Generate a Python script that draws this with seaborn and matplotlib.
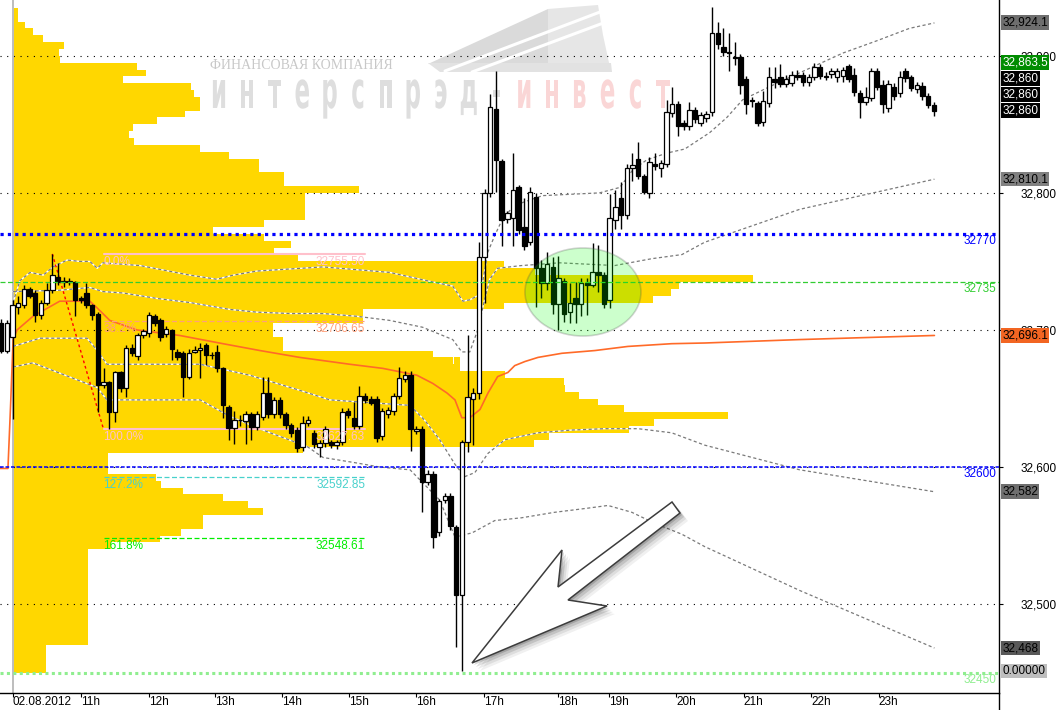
import numpy as np
import matplotlib
matplotlib.use("Agg")
import matplotlib.pyplot as plt
import seaborn as sns
from matplotlib.patches import Ellipse, Polygon, PathPatch
from matplotlib.textpath import TextPath
from matplotlib.font_manager import FontProperties
from matplotlib.transforms import Affine2D, IdentityTransform, ScaledTranslation
from matplotlib.lines import Line2D

# ---------------- data ----------------
first_bar = -2
opens = [32705, 32685, 32695, 32717, 32718, 32730, 32727, 32711, 32720, 32729,
         32739, 32735, 32736, 32735, 32723, 32727, 32718, 32712, 32660, 32662,
         32640, 32669, 32658, 32687, 32681, 32696, 32698, 32710, 32707, 32697,
         32700, 32684, 32683, 32666, 32684, 32685.5, 32689, 32682, 32684, 32672,
         32644, 32628.5, 32634.4, 32633.5, 32639, 32629, 32636.5, 32654, 32639, 32649,
         32639, 32631, 32627, 32615, 32632, 32625, 32615, 32617.5, 32618.5, 32616,
         32618.5, 32641, 32636, 32630, 32652, 32650, 32650, 32623, 32639, 32641,
         32652, 32664, 32667, 32626, 32628, 32589, 32595, 32553, 32576, 32579,
         32556, 32507, 32618, 32650, 32654, 32753, 32800, 32861, 32823, 32781,
         32782, 32804, 32775, 32764, 32797, 32745, 32734, 32746, 32719, 32736,
         32713, 32723, 32719, 32734, 32733, 32742, 32740, 32722, 32780, 32796,
         32784, 32818, 32825, 32812, 32800, 32821, 32818, 32821, 32858, 32865,
         32851, 32849, 32860.5, 32851, 32854.5, 32859, 32916.6, 32906.4, 32903, 32899,
         32899, 32883, 32868, 32865.6, 32851.7, 32865.6, 32883, 32884.5, 32879.4, 32880,
         32886, 32886, 32881, 32884.5, 32892, 32885.3, 32886.7, 32884.5, 32885, 32892.6,
         32886, 32873, 32866, 32869, 32889, 32879, 32862, 32877, 32873, 32889,
         32884.5, 32876, 32878, 32871, 32864]
highs = [32708, 32707, 32722, 32725, 32733, 32731, 32729, 32722, 32734, 32755.5,
         32749, 32739, 32738, 32736, 32725, 32734, 32719, 32713, 32672, 32663,
         32670, 32670, 32689, 32690, 32698, 32701, 32713, 32712, 32709, 32703,
         32701, 32686, 32685, 32686, 32688, 32690.5, 32690.5, 32684, 32689, 32673,
         32645, 32641, 32638, 32641, 32640, 32641, 32666, 32666, 32651, 32651,
         32640, 32632, 32629, 32637, 32637, 32627, 32620, 32630, 32620, 32620,
         32643, 32643, 32647.5, 32659, 32654, 32652, 32652, 32643, 32644, 32654,
         32673, 32670, 32670, 32630, 32630, 32598, 32597, 32577, 32581, 32581,
         32558, 32620, 32696, 32658, 32764, 32803, 32872, 32889, 32825, 32787,
         32829, 32806, 32796, 32804, 32800, 32751, 32757, 32753, 32754, 32738,
         32734, 32735, 32738, 32738, 32763.5, 32762, 32742, 32799, 32802, 32808,
         32821, 32829, 32837, 32814, 32826, 32829, 32824, 32868, 32877, 32867,
         32853, 32866, 32863, 32859, 32860, 32935.6, 32924.7, 32920, 32916.6, 32910,
         32901, 32885, 32870, 32867, 32874, 32892, 32892, 32894, 32886, 32889,
         32889.6, 32888, 32887, 32895, 32894, 32888, 32891, 32891, 32892, 32894,
         32891, 32875, 32877, 32891, 32891, 32882, 32882, 32880, 32889, 32891,
         32886, 32881, 32881, 32873, 32866]
lows = [32683, 32683, 32635, 32712, 32716, 32723, 32706, 32708, 32718, 32727,
        32733, 32731, 32733, 32710, 32720, 32716, 32707, 32640, 32658, 32627.6,
        32633, 32655, 32651, 32681, 32678, 32694, 32695, 32703, 32692, 32695,
        32678, 32678, 32651, 32664, 32683, 32665, 32674.5, 32679, 32669, 32636,
        32620, 32617, 32630, 32617, 32620, 32627, 32634, 32636, 32636, 32636,
        32628, 32622, 32611, 32612, 32630, 32614, 32607, 32615, 32614, 32613,
        32616, 32636, 32628, 32628, 32647, 32645, 32618, 32620, 32636, 32638,
        32650, 32662, 32612, 32624, 32567, 32587, 32541, 32550, 32574, 32554,
        32469, 32451, 32611, 32616, 32650, 32720, 32797, 32801, 32761, 32778,
        32761, 32770, 32758, 32762, 32717, 32723, 32729, 32712, 32700, 32706,
        32705, 32705, 32710, 32711, 32731, 32728, 32716, 32716, 32774, 32774,
        32781, 32809, 32810, 32799, 32796, 32817, 32811.5, 32819, 32855, 32841.5,
        32846, 32846, 32851, 32849, 32852, 32856, 32905, 32900, 32889, 32893,
        32872, 32857.6, 32863, 32849, 32849, 32863, 32876.5, 32877, 32877, 32878,
        32882, 32878, 32878, 32882, 32883, 32882, 32884, 32881, 32881, 32881,
        32871, 32854.6, 32864, 32867, 32875, 32858, 32859, 32868, 32870, 32881,
        32874, 32873, 32868, 32862, 32856]
closes = [32685, 32705, 32718, 32720, 32730, 32725, 32711, 32720, 32729, 32740,
          32735, 32736, 32735, 32722, 32722, 32718, 32711, 32660, 32662, 32640,
          32669, 32658, 32687, 32683, 32696, 32699, 32711, 32705, 32695, 32701,
          32686, 32680, 32666, 32683, 32685.5, 32687, 32682, 32681.5, 32672, 32645,
          32628.5, 32634, 32634, 32639, 32629, 32639, 32654, 32639, 32649, 32639,
          32631, 32625, 32614, 32632, 32634.5, 32617, 32617.5, 32628, 32616, 32618.5,
          32640, 32638, 32630, 32652, 32649, 32647, 32621, 32641, 32641.5, 32652,
          32665, 32667, 32628, 32628, 32589, 32595, 32549, 32575, 32579, 32557,
          32507, 32618, 32651, 32654, 32753, 32800, 32863, 32824, 32780, 32785,
          32802, 32773, 32761, 32801, 32745, 32734, 32748, 32719, 32738, 32712,
          32720, 32719, 32734, 32733, 32742, 32740, 32719, 32782, 32790, 32784,
          32818, 32820, 32812, 32801, 32822.5, 32819.5, 32822, 32859, 32865, 32849,
          32849, 32860.5, 32854, 32857, 32857.5, 32916.6, 32908.6, 32903, 32902, 32898.5,
          32879, 32865, 32867, 32851, 32867, 32884.5, 32881, 32879.4, 32883, 32886,
          32884.5, 32881, 32884.5, 32892, 32885, 32884.8, 32889, 32889, 32889.6, 32883,
          32873.6, 32866, 32870, 32889, 32877, 32865, 32879.4, 32871, 32884.5, 32884,
          32876.5, 32879, 32871, 32864, 32860]

hour_ticks = [0, 12, 24, 35.6, 47.4, 59.1, 71.0, 82.9, 96.0, 104.8, 116.7, 128.6, 140.4, 152.3]
hour_labels = ["02.08.2012", "11h", "12h", "13h", "14h", "15h", "16h", "17h",
               "18h", "19h", "20h", "21h", "22h", "23h"]
price_ticks = [32500, 32600, 32700, 32800, 32900]

profile_step = 5
left_profile_start = 32450
left_profile_volume = [33, 33, 33, 33, 75, 75, 75, 75, 75, 75, 75, 75, 75, 75, 75, 75, 75, 75,
                       98, 147, 168, 190, 190, 250, 235, 210, 170, 148, 143, 95, 95, 95, 290,
                       445, 445, 445, 445, 445, 445, 445, 445, 445, 445, 445, 445,
                       440, 420, 270, 270, 260, 260, 350, 350,
                       445, 445, 445, 445, 445, 445, 445,
                       285, 261, 278, 251, 200, 251, 292, 292, 292, 292, 346, 271, 271, 246,
                       246, 216, 187, 121, 116, 120, 144, 172, 187, 187, 181, 178, 110, 133,
                       124, 47, 46, 51, 30, 20, 12, 5, 5, 0]
right_profile_start = 32615
right_profile_volume = [80, 95, 175, 200, 274, 170, 144, 125, 111, 110, 51, 6, 6,
                        0, 0, 0, 0, 0, 0, 0, 50, 199, 217, 225, 299, 81, 50]
right_profile_first_bar = 77.6

vwap_bar = [-2.2, -0.8, -0.3, 0.1, 0.8, 3.6, 6.6, 8.3, 13.6, 14.9, 17.1, 21.9, 29.4, 37.0,
            43.5, 50.5, 59.3, 65.1, 71.1, 73.9, 76.4, 77.8, 79.0, 80.4, 82.2, 83.6, 85.3,
            87.1, 88.3, 90.1, 92.4, 96.6, 102.4, 108.2, 115.9, 121.7, 138.4, 162.1]
vwap_price = [32599, 32599, 32649, 32693, 32700, 32710, 32717, 32721, 32721, 32716, 32707,
              32700, 32696, 32690, 32685, 32680, 32675, 32672, 32667, 32661, 32654, 32649,
              32636, 32636, 32642, 32654, 32666, 32669, 32674, 32677, 32680, 32683, 32685,
              32688, 32690, 32690.5, 32693, 32696]
upper2_bar = [0.1, 1.3, 3.1, 5.4, 7.1, 9.6, 11.9, 13.6, 14.9, 15.9, 22.4, 31.2, 35.9, 38.8,
              43.0, 54.6, 66.3, 73.9, 77.4, 79.2, 80.4, 81.8, 82.7, 83.6, 84.8, 85.7, 87.4,
              89.7, 93.2, 103.2, 106.8, 109.1, 111.5, 115.0, 118.2, 122.6, 125.6, 128.4,
              134.4, 140.2, 146.0, 152.0, 157.7, 162.1]
upper2_price = [32720, 32736, 32742, 32740, 32746, 32751, 32750, 32750, 32745, 32749, 32747,
                32740, 32737, 32740, 32743, 32746, 32742, 32735, 32732, 32721, 32722, 32725,
                32736, 32757, 32769, 32777, 32787, 32793, 32798, 32800, 32804, 32817, 32824,
                32829, 32832, 32844, 32855, 32868, 32880, 32891, 32902, 32911, 32920, 32924]
upper1_bar = [0.1, 8.3, 13.6, 15.9, 19.4, 25.4, 31.2, 38.2, 43.0, 48.8, 54.6, 60.5, 66.3,
              72.1, 77.4, 79.0, 80.4, 81.8, 83.0, 83.9, 85.3, 89.5, 96.2, 105.9, 112.4,
              117.7, 121.7, 138.4, 162.1]
upper1_price = [32728, 32729, 32731, 32728, 32727, 32723, 32720, 32715, 32713, 32712, 32712,
                32710, 32707, 32702, 32693, 32684, 32684, 32700, 32722, 32737, 32745, 32747,
                32749, 32747, 32752, 32755, 32764, 32788, 32810]
lower1_bar = [0.1, 4.8, 13.1, 14.9, 16.6, 24.2, 33.0, 41.7, 50.5, 55.8, 62.8, 69.9, 72.5,
              75.1, 77.8, 79.5, 81.3, 83.6, 86.6, 92.4, 98.3, 104.1, 110.0, 115.9, 121.7,
              138.4, 162.1]
lower1_price = [32688, 32694, 32694, 32685, 32675, 32675, 32675, 32667, 32656, 32649, 32647,
                32645, 32634, 32620, 32602, 32593, 32596, 32610, 32620, 32625, 32627, 32628,
                32628, 32625, 32616, 32598, 32582]
lower2_bar = [0.1, 3.6, 14.9, 16.6, 33.0, 38.2, 44.0, 51.8, 54.6, 60.5, 64.6, 69.9, 75.1,
              77.8, 80.8, 84.8, 89.5, 95.3, 101.1, 104.7, 108.9, 112.9, 117.7, 121.7, 138.4,
              162.1]
lower2_price = [32673, 32676, 32658, 32649, 32649, 32637, 32627, 32615, 32607, 32603, 32600,
                32598, 32576, 32549, 32552, 32561, 32563, 32567, 32570, 32572, 32567, 32559,
                32551, 32542, 32510, 32468]

fib_labels = ["0.0%", "38.2%", "100.0%", "127.2%", "161.8%"]
fib_prices = [32755.50, 32706.65, 32627.63, 32592.85, 32548.61]
fib_bars = [16, 62]
swing_bars = [7, 16]
swing_prices = [32755.50, 32627.63]

level_prices = [32770, 32735, 32600, 32450]

tag_values = [32924.1, 32863.5, 32860, 32860, 32860, 32810.1, 32696.1, 32582, 32468, 0.0]
tag_texts = ["32,924.1", "32,863.5", "32,860", "32,860", "32,860", "32,810.1",
             "32,696.1", "32,582", "32,468", "0.00000"]

highlight_center = (100.3, 32727.7)
highlight_size = (20.4, 64.2)

watermark_small = "ФИНАНСОВАЯ КОМПАНИЯ"
watermark_big = "интерспрэд-инвест"

# ---------------- styles ----------------
GOLD = "#FFD700"
fib_colors = ["#FFC0CB", "#FFA07A", "#FFC0CB", "#48D1CC", "#00EE00"]
fib_styles = ["-", (0, (4, 2)), "-", (0, (4, 2)), (0, (4, 2))]
fib_widths = [1.5, 0.9, 1.5, 0.9, 0.9]
level_colors = ["#0000FF", "#32CD32", "#0000FF", "#90EE90"]
level_styles = [(0, (1, 1.3)), (0, (4, 2)), (0, (2.4, 1.2)), (0, (1, 1.1))]
level_widths = [2.3, 0.9, 1.1, 2.2]
tag_bg = ["#6E6E6E", "#008C00", "#000000", "#000000", "#000000", "#808080",
          "#F26522", "#6E6E6E", "#585858", "#BEBEBE"]
tag_fg = ["black", "white", "white", "white", "white", "black", "black", "black",
          "black", "black"]

sns.set_theme(style="white")
plt.rcParams["font.family"] = ["Liberation Sans", "DejaVu Sans"]
plt.rcParams["axes.unicode_minus"] = False

W, H, DPI = 1060, 710, 100
fig = plt.figure(figsize=(W / DPI, H / DPI), dpi=DPI)
fig.patch.set_facecolor("white")
AX_W, AX_B = 998.7, 17
ax = fig.add_axes([0, AX_B / H, AX_W / W, (H - AX_B) / H])
ax.set_facecolor("white")
XMIN, XMAX = -2.2, 173.4
YMIN, YMAX = 32435.2, 32940.7
ax.set_xlim(XMIN, XMAX)
ax.set_ylim(YMIN, YMAX)
px_per_bar = AX_W / (XMAX - XMIN)
vol_scale = 1.0 / px_per_bar
pt_per_px = (YMAX - YMIN) / (H - AX_B)

# ---------------- watermark (behind everything) ----------------
def img2disp(pts):
    return [(x, H - y) for x, y in pts]

logo_polys = [
    ([(428, 64), (548, 9), (548, 66)], "#DADADA"),
    ([(548, 9), (598, 5), (603, 35), (611, 72), (548, 72)], "#E6E6E6"),
    ([(428, 63), (611, 63), (612, 72), (440, 72)], "#E2E2E2"),
]
for pts, col in logo_polys:
    ax.add_artist(Polygon(img2disp(pts), closed=True, facecolor=col, edgecolor="none",
                          transform=IdentityTransform(), zorder=0.2))
for (x0, y0, x1, y1) in [(445, 71, 600, 12), (472, 72, 606, 22)]:
    ax.add_artist(Line2D([x0, x1], [H - y0, H - y1], color="white", lw=2.2,
                         transform=IdentityTransform(), zorder=0.25))
ax.text(210, H - 69, watermark_small, transform=IdentityTransform(), fontsize=10,
        family="Liberation Serif", color="#C8C8C8", va="baseline", ha="left", zorder=0.3)
fp = FontProperties(family="DejaVu Sans", weight="bold")
ref = TextPath((0, 0), "н", size=1, prop=fp).get_extents()
sy = 28 / ref.height
sx = 12 / ref.width
for i, ch in enumerate(watermark_big):
    tp = TextPath((0, 0), ch, size=1, prop=fp)
    ext = tp.get_extents()
    cx = (ext.x0 + ext.x1) / 2
    tr = Affine2D().translate(-cx, 0).scale(sx, sy).translate(219 + 27.75 * i, H - 108)
    col = "#DEDEDE" if i < 11 else "#FAD6D6"
    ax.add_artist(PathPatch(tr.transform_path(tp), facecolor=col, edgecolor="none",
                            transform=IdentityTransform(), zorder=0.3))

# ---------------- volume profiles ----------------
lp_levels = left_profile_start + profile_step * np.arange(len(left_profile_volume))
ax.barh(lp_levels, np.array(left_profile_volume) * vol_scale, height=profile_step, left=0,
        align="edge", color=GOLD, linewidth=0, zorder=1)
rp_levels = right_profile_start + profile_step * np.arange(len(right_profile_volume))
ax.barh(rp_levels, np.array(right_profile_volume) * vol_scale, height=profile_step,
        left=right_profile_first_bar, align="edge", color=GOLD, linewidth=0, zorder=1)

# grid & day separator
for p in price_ticks:
    ax.axhline(p, color="black", lw=0.8, ls=(0, (1, 5)), zorder=1.5)
ax.axvline(0, color="#BDBDBD", lw=1.4, zorder=1.6)

# ---------------- bands ----------------
for bx, by in [(upper2_bar, upper2_price), (upper1_bar, upper1_price),
               (lower1_bar, lower1_price), (lower2_bar, lower2_price)]:
    sns.lineplot(x=np.array(bx), y=np.array(by), ax=ax, color="white", linewidth=1.0,
                 errorbar=None, sort=False, zorder=2)
    sns.lineplot(x=np.array(bx), y=np.array(by), ax=ax, color="#7A7A7A", linewidth=0.9,
                 linestyle=(0, (2.5, 2)), errorbar=None, sort=False, zorder=2.1)
sns.lineplot(x=np.array(vwap_bar), y=np.array(vwap_price), ax=ax, color="#FF6A28",
             linewidth=1.2, errorbar=None, sort=False, zorder=2.2)

# ---------------- fibonacci ----------------
for lab, p, col, ls, lw in zip(fib_labels, fib_prices, fib_colors, fib_styles, fib_widths):
    ax.plot(fib_bars, [p, p], color=col, ls=ls, lw=lw, zorder=2.5)
    ax.annotate(lab, xy=(fib_bars[0], p), xytext=(0, -1.5), textcoords="offset points",
                ha="left", va="top", fontsize=8.5, color=col, zorder=7)
    ax.annotate(f"{p:.2f}", xy=(fib_bars[1], p), xytext=(0, -1.5), textcoords="offset points",
                ha="right", va="top", fontsize=8.5, color=col, zorder=7)
ax.plot(swing_bars, swing_prices, color="#FF0000", lw=1.0, ls=(0, (2, 2)), zorder=2.6)

# ---------------- candles ----------------
o = np.array(opens, float); h = np.array(highs, float)
l = np.array(lows, float); c = np.array(closes, float)
bars = np.arange(first_bar, first_bar + len(o))
ax.vlines(bars, l, h, color="black", lw=1.0, zorder=5)
up = c >= o
lo = np.minimum(o, c)
hh = np.maximum(np.abs(c - o), 0.6)
ax.bar(bars[up], hh[up], bottom=lo[up], width=0.78, color="white", edgecolor="black",
       linewidth=0.9, zorder=5.1)
ax.bar(bars[~up], hh[~up], bottom=lo[~up], width=0.78, color="black", edgecolor="black",
       linewidth=0.9, zorder=5.1)

# ---------------- horizontal levels ----------------
for p, col, ls, lw in zip(level_prices, level_colors, level_styles, level_widths):
    ax.axhline(p, color=col, ls=ls, lw=lw, zorder=6)
    ax.annotate(f"{p}", xy=(0.998, p), xycoords=("axes fraction", "data"), xytext=(0, -1),
                textcoords="offset points", ha="right", va="top", fontsize=8.5,
                color=col, zorder=7)

# ---------------- highlight ellipse ----------------
ax.add_patch(Ellipse(highlight_center, highlight_size[0], highlight_size[1],
                     facecolor=(0, 1, 0, 0.2), edgecolor=(0.3, 0.3, 0.3, 0.25), lw=1.2,
                     zorder=8))

# ---------------- arrow ----------------
arrow_pts = [(472, 663), (562, 550), (558, 587), (672, 502), (680, 513), (568, 600), (607, 606)]
for k, a in [(8, 0.06), (6, 0.08), (4, 0.12), (2, 0.16)]:
    ax.add_artist(Polygon([(x + k, H - y - k) for x, y in arrow_pts], closed=True,
                          facecolor=(0, 0, 0, a), edgecolor="none",
                          transform=IdentityTransform(), zorder=8.5))
ax.add_artist(Polygon(img2disp(arrow_pts), closed=True, facecolor="white", edgecolor="#3C3C3C",
                      lw=1.1, transform=IdentityTransform(), zorder=8.6))

# ---------------- axes ----------------
for s in ["left", "top"]:
    ax.spines[s].set_visible(False)
for s in ["right", "bottom"]:
    ax.spines[s].set_visible(True)
    ax.spines[s].set_color("black")
    ax.spines[s].set_linewidth(1.0)
fig.add_artist(Line2D([AX_W / W, AX_W / W], [0, AX_B / H], color="black", lw=1.0,
                      transform=fig.transFigure))

ax.set_xticks(hour_ticks)
ax.set_xticklabels(hour_labels, fontsize=8.5)
offset = ScaledTranslation(3.0 / 72, 0, fig.dpi_scale_trans)
for lbl in ax.get_xticklabels():
    lbl.set_horizontalalignment("left")
    lbl.set_transform(lbl.get_transform() + offset)
ax.tick_params(axis="x", bottom=True, direction="out", length=3, width=0.8, pad=-1.0,
               colors="black")

ax.yaxis.tick_right()
ax.set_yticks(price_ticks)
ax.set_yticklabels([f"{p:,}" for p in price_ticks], fontsize=8.5)
ax.tick_params(axis="y", right=True, left=False, direction="out", length=3, width=0.8,
               pad=13.0, colors="black")
ax.set_xlabel(""); ax.set_ylabel("")
ax.grid(False)

# ---------------- price tags on the right ----------------
order = sorted(range(len(tag_values)), key=lambda i: (tag_values[i], i))
gap = 16 * pt_per_px
floor = YMIN + 22 * pt_per_px
prev = -1e9
tag_pos = {}
for i in order:
    y = max(tag_values[i], floor, prev + gap)
    tag_pos[i] = y
    prev = y
for i in range(len(tag_values)):
    ax.text(1.0035, tag_pos[i], tag_texts[i], transform=ax.get_yaxis_transform(),
            ha="left", va="center", fontsize=8.5, color=tag_fg[i], clip_on=False,
            bbox=dict(boxstyle="square,pad=0.12", facecolor=tag_bg[i], edgecolor="none"),
            zorder=10)

fig.savefig("out.png", dpi=DPI)
